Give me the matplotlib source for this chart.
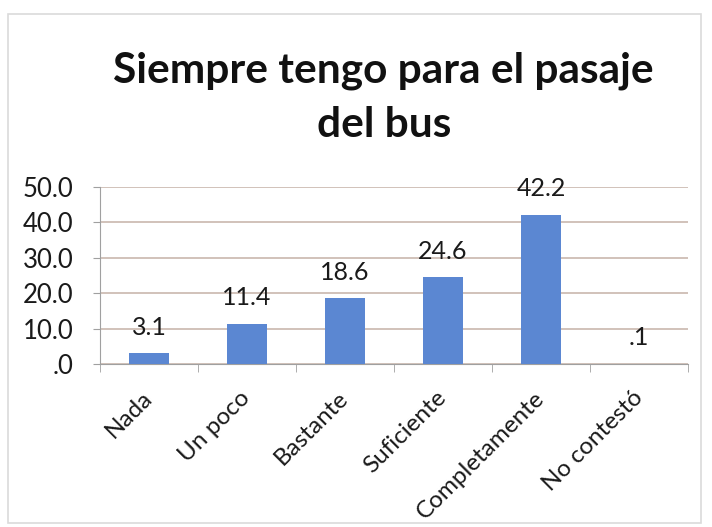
import matplotlib.pyplot as plt
from matplotlib.patches import Rectangle
import numpy as np

title_lines = ["Siempre tengo para el pasaje", "del bus"]
categories = ["Nada", "Un poco", "Bastante", "Suficiente", "Completamente", "No contestó"]
values = [3.1, 11.4, 18.6, 24.6, 42.2, 0.1]
yticks = [0, 10, 20, 30, 40, 50]

def fmt(v):
    # Excel-style number format without the leading zero
    s = f"{v:.1f}"
    return s[1:] if s.startswith("0") else s

plt.rcParams['font.family'] = ['Lato', 'DejaVu Sans']

fig = plt.figure(figsize=(7.12, 5.27), dpi=100, facecolor='white')

# chart border
fig.patches.append(Rectangle((8 / 712, 4 / 527), 693 / 712, 509 / 527,
                             transform=fig.transFigure, fill=False,
                             edgecolor='#dadada', linewidth=1.2))

ax = fig.add_axes([0.1404, 0.3093, 0.8260, 0.3357])
x = np.arange(len(categories))
bars = ax.bar(x, values, width=0.41, color='#5b87d2', zorder=3)

for b, v in zip(bars, values):
    ax.annotate(fmt(v), (b.get_x() + b.get_width() / 2, v),
                xytext=(0, 18.5), textcoords='offset points',
                ha='center', va='center', fontsize=18, color='#1a1a1a')

ax.set_xlim(-0.5, len(categories) - 0.5)
ax.set_ylim(0, 50)
ax.set_yticks(yticks)
ax.set_yticklabels([fmt(t) for t in yticks], fontsize=18.5, color='#1a1a1a')
ax.yaxis.grid(True, color='#c9b8ae', linewidth=1.2, zorder=0)
ax.set_axisbelow(True)

ax.set_xticks(x)
ax.set_xticklabels(categories, rotation=45, ha='right', va='center',
                   rotation_mode='anchor', fontsize=17.5, color='#1a1a1a')
ax.tick_params(axis='x', which='major', length=0, pad=22)
ax.set_xticks(np.arange(-0.5, len(categories)), minor=True)
ax.tick_params(axis='x', which='minor', length=6, color='#a0a0a0')
ax.tick_params(axis='y', length=5, color='#a0a0a0', pad=14)

for side in ['top', 'right']:
    ax.spines[side].set_visible(False)
for side in ['left', 'bottom']:
    ax.spines[side].set_color('#a0a0a0')

# two-line title, baselines placed separately
for line, y in zip(title_lines, [1 - 82 / 527, 1 - 137 / 527]):
    fig.text(0.539, y, line, ha='center', va='baseline',
             fontsize=30.5, fontweight='bold', color='#111111')

fig.savefig('out.png', dpi=100, facecolor='white')
